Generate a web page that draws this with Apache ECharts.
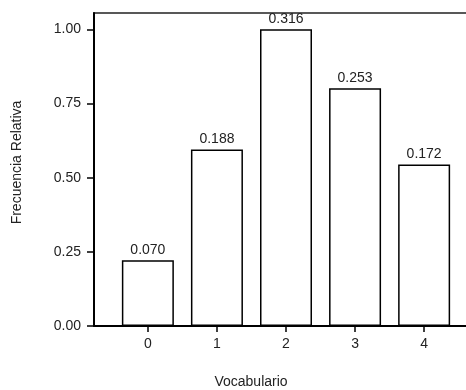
<!DOCTYPE html>
<html>
<head>
<meta charset="utf-8">
<style>html,body{margin:0;padding:0;background:#fff;}#c{width:466px;height:390px;}</style>
<script src="https://cdn.jsdelivr.net/npm/echarts@6/dist/echarts.min.js"></script>
</head>
<body>
<div id="c"></div>
<script>
var categories = [0, 1, 2, 3, 4];
var barHeights = [0.222, 0.595, 1.00, 0.801, 0.544];
var barLabels = ["0.070", "0.188", "0.316", "0.253", "0.172"];
var yTicks = [0, 0.25, 0.50, 0.75, 1.00];
var xTitle = "Vocabulario";
var yTitle = "Frecuencia Relativa";

var chart = echarts.init(document.getElementById('c'), null, {renderer: 'canvas'});
var font = 'Liberation Sans, Arial, sans-serif';
chart.setOption({
  animation: false,
  backgroundColor: '#fff',
  grid: {
    left: 94, top: 13, width: 384, bottom: 64,
    show: true, borderColor: '#222', borderWidth: 1.5,
    containLabel: false, outerBoundsMode: 'none'
  },
  xAxis: {
    type: 'value', min: -0.78, max: 4.78,
    splitLine: {show: false},
    axisLine: {show: true, onZero: false, lineStyle: {color: '#000', width: 2}},
    axisTick: {show: true, length: 6, customValues: categories, lineStyle: {color: '#000', width: 1.5}},
    axisLabel: {customValues: categories, margin: 11, color: '#222', fontSize: 14, fontFamily: font,
      formatter: function (v) { return String(v); }},
    name: xTitle, nameLocation: 'middle', nameGap: 49,
    nameTextStyle: {color: '#222', fontSize: 14, fontFamily: font, padding: [0, 70, 0, 0]}
  },
  yAxis: {
    type: 'value', min: 0, max: 1.055,
    splitLine: {show: false},
    axisLine: {show: true, onZero: false, lineStyle: {color: '#000', width: 2}},
    axisTick: {show: true, length: 7, customValues: yTicks, lineStyle: {color: '#000', width: 1.5}},
    axisLabel: {customValues: yTicks, margin: 13, color: '#222', fontSize: 14, fontFamily: font,
      formatter: function (v) { return v.toFixed(2); }},
    name: yTitle, nameLocation: 'middle', nameGap: 70, nameRotate: 90,
    nameTextStyle: {color: '#222', fontSize: 14, fontFamily: font, padding: [0, 0, 0, 14]}
  },
  series: [{
    type: 'bar',
    barWidth: 52,
    data: categories.map(function (c, i) { return [c, barHeights[i]]; }),
    itemStyle: {color: '#fff', borderColor: '#000', borderWidth: 1.5},
    label: {
      show: true, position: 'top', distance: 3, color: '#222', fontSize: 14, fontFamily: font,
      formatter: function (p) { return barLabels[p.dataIndex]; }
    }
  }]
});
</script>
</body>
</html>
